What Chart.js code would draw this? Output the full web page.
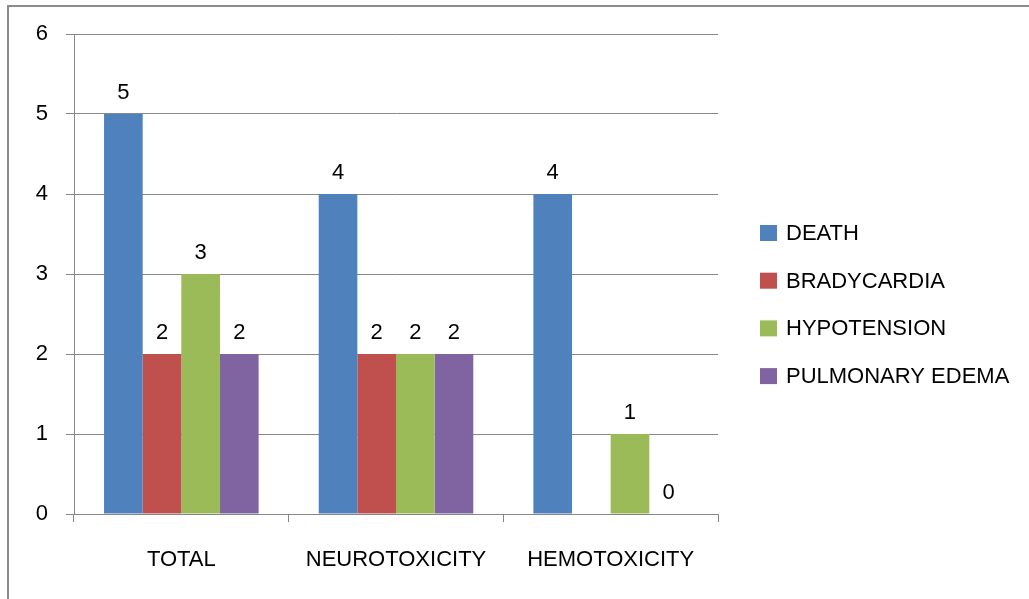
<!DOCTYPE html>
<html>
<head>
<meta charset="utf-8">
<script src="https://cdn.jsdelivr.net/npm/chart.js@4/dist/chart.umd.min.js"></script>
<style>
  html, body { margin: 0; padding: 0; background: #ffffff; }
  #wrap { width: 1029px; height: 599px; position: relative; }
</style>
</head>
<body>
<div id="wrap"><canvas id="chart" width="1029" height="599"></canvas></div>
<script>
// Categories and series
const categories = ['TOTAL', 'NEUROTOXICITY', 'HEMOTOXICITY'];
const death = [5, 4, 4];
const bradycardia = [2, 2, null];
const hypotension = [3, 2, 1];
const pulmonaryEdema = [2, 2, 0];
const yTicks = [0, 1, 2, 3, 4, 5, 6];

const FONT = '"Liberation Sans", Arial, sans-serif';
const FONT_SIZE = 22;
const GRID = '#888888';

// Value labels above each bar
const valueLabels = {
  id: 'valueLabels',
  afterDatasetsDraw(chart) {
    const ctx = chart.ctx;
    ctx.save();
    ctx.font = FONT_SIZE + 'px ' + FONT;
    ctx.fillStyle = '#000';
    ctx.textAlign = 'center';
    ctx.textBaseline = 'middle';
    chart.data.datasets.forEach((ds, i) => {
      const meta = chart.getDatasetMeta(i);
      meta.data.forEach((bar, j) => {
        const v = ds.data[j];
        if (v === null || v === undefined) return;
        ctx.fillText(String(v), bar.x, bar.y - 21);
      });
    });
    ctx.restore();
  }
};

// Legend on the right and the outer frame
const sideLegend = {
  id: 'sideLegend',
  afterDraw(chart) {
    const ctx = chart.ctx;
    ctx.save();
    ctx.font = FONT_SIZE + 'px ' + FONT;
    ctx.textAlign = 'left';
    ctx.textBaseline = 'middle';
    chart.data.datasets.forEach((ds, i) => {
      const cy = 233 + i * 47.7;
      ctx.fillStyle = ds.backgroundColor;
      ctx.fillRect(760, cy - 8, 17, 16);
      ctx.fillStyle = '#000';
      ctx.fillText(ds.label, 786, cy + 1);
    });
    // frame
    ctx.strokeStyle = '#8c8c8c';
    ctx.lineWidth = 2;
    ctx.beginPath();
    ctx.moveTo(8, 599);
    ctx.lineTo(8, 6);
    ctx.lineTo(1029, 6);
    ctx.stroke();
    ctx.restore();
  }
};

new Chart(document.getElementById('chart'), {
  type: 'bar',
  data: {
    labels: categories,
    datasets: [
      { label: 'DEATH', data: death, backgroundColor: '#4F81BD' },
      { label: 'BRADYCARDIA', data: bradycardia, backgroundColor: '#C0504D' },
      { label: 'HYPOTENSION', data: hypotension, backgroundColor: '#9BBB59' },
      { label: 'PULMONARY EDEMA', data: pulmonaryEdema, backgroundColor: '#8064A2' }
    ]
  },
  options: {
    responsive: false,
    animation: false,
    devicePixelRatio: 1,
    layout: { padding: { left: 0, top: 34, right: 311, bottom: 0 } },
    datasets: { bar: { barPercentage: 1.0, categoryPercentage: 0.72 } },
    plugins: {
      legend: { display: false },
      tooltip: { enabled: false }
    },
    scales: {
      x: {
        afterFit(scale) { scale.height = 85; },
        grid: {
          offset: true,
          drawOnChartArea: false,
          drawTicks: true,
          tickLength: 8,
          color: GRID,
          lineWidth: 1
        },
        border: { display: true, color: GRID, width: 1 },
        ticks: {
          color: '#000',
          padding: 25,
          maxRotation: 0,
          font: { family: FONT, size: FONT_SIZE }
        }
      },
      y: {
        min: 0,
        max: 6,
        afterFit(scale) { scale.width = 74; },
        afterBuildTicks(scale) { scale.ticks = yTicks.map(v => ({ value: v })); },
        grid: {
          color: GRID,
          lineWidth: 1,
          drawTicks: true,
          tickLength: 8
        },
        border: { display: true, color: GRID, width: 1 },
        ticks: {
          color: '#000',
          padding: 18,
          font: { family: FONT, size: FONT_SIZE }
        }
      }
    }
  },
  plugins: [valueLabels, sideLegend]
});
</script>
</body>
</html>
